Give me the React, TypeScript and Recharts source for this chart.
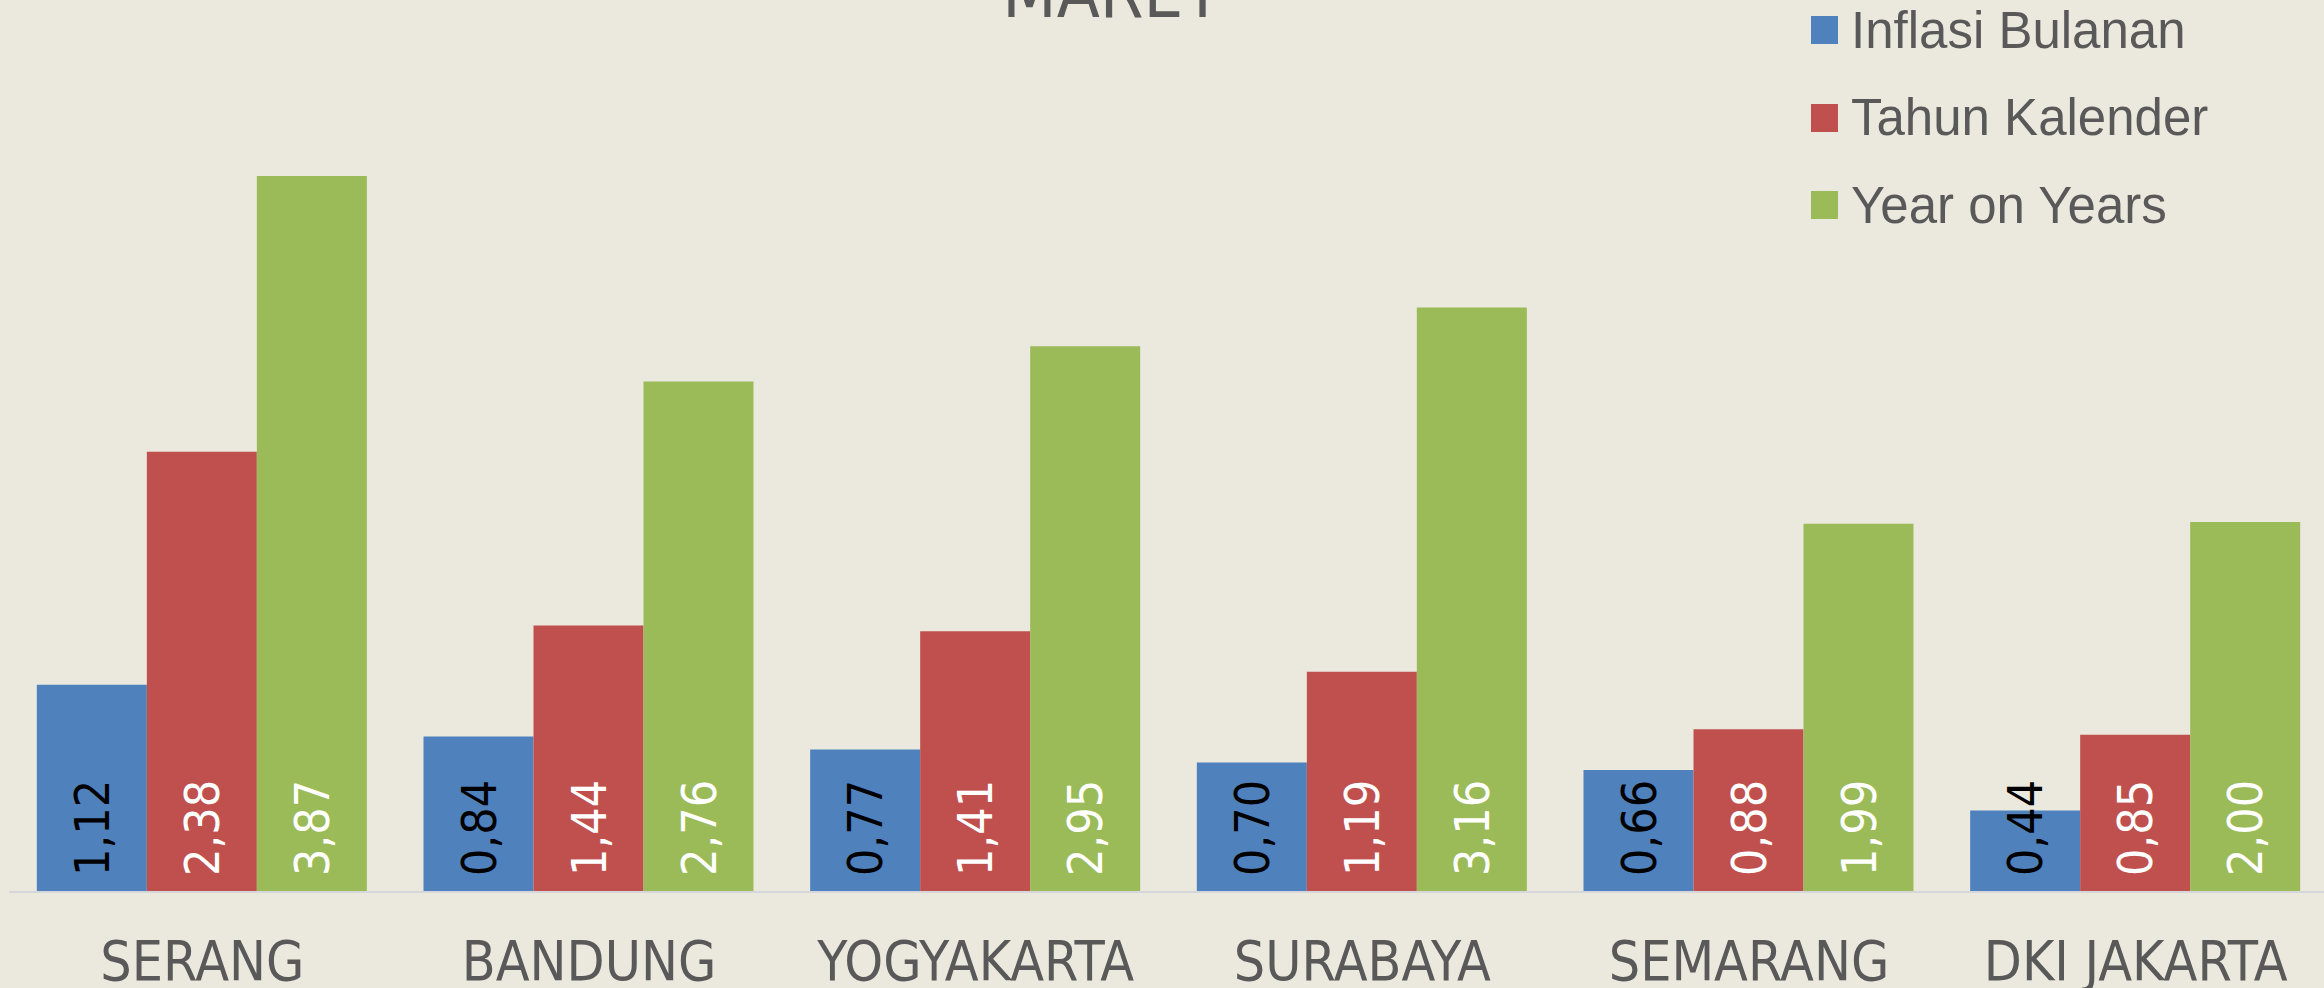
import React from 'react';
import { BarChart, Bar, XAxis, YAxis, LabelList } from 'recharts';

const categories = ['SERANG', 'BANDUNG', 'YOGYAKARTA', 'SURABAYA', 'SEMARANG', 'DKI JAKARTA'];
const inflasiBulanan = [1.12, 0.84, 0.77, 0.7, 0.66, 0.44];
const tahunKalender = [2.38, 1.44, 1.41, 1.19, 0.88, 0.85];
const yearOnYears = [3.87, 2.76, 2.95, 3.16, 1.99, 2.0];

const seriesInfo = [
  { key: 'bulanan', name: 'Inflasi Bulanan', color: '#4F81BD', labelColor: '#000000' },
  { key: 'kalender', name: 'Tahun Kalender', color: '#C0504D', labelColor: '#FFFFFF' },
  { key: 'yoy', name: 'Year on Years', color: '#9BBB59', labelColor: '#FFFFFF' },
];

const data = categories.map((c, i) => ({
  name: c,
  bulanan: inflasiBulanan[i],
  kalender: tahunKalender[i],
  yoy: yearOnYears[i],
}));

const BG = '#EBE8DE';
const TEXT = '#595959';
const CAT_FONT = "'DejaVu Sans Condensed', 'DejaVu Sans', sans-serif";

const makeLabel = (color: string) => (props: any) => {
  const { x, y, width, height, value } = props;
  const cx = Number(x) + Number(width) / 2;
  const by = Number(y) + Number(height) - 16;
  return (
    <text
      x={cx}
      y={by}
      dy="0.36em"
      transform={`rotate(-90, ${cx}, ${by})`}
      textAnchor="start"
      fill={color}
      fontSize={48}
      fontFamily={CAT_FONT}
      style={{ fontStretch: 'condensed' }}
    >
      {Number(value).toFixed(2).replace('.', ',')}
    </text>
  );
};

const CategoryTick = (props: any) => {
  const { x, y, payload } = props;
  return (
    <text
      x={x}
      y={Number(y)}
      dy={88}
      textAnchor="middle"
      fill={TEXT}
      fontSize={55}
      fontFamily={CAT_FONT}
      style={{ fontStretch: 'condensed' }}
    >
      {payload.value}
    </text>
  );
};

const LegendBox = () => (
  <div
    style={{
      position: 'absolute',
      left: 1811,
      top: 2,
      display: 'flex',
      flexDirection: 'column',
    }}
  >
    {seriesInfo.map((s, i) => (
      <div
        key={s.key}
        style={{
          display: 'flex',
          alignItems: 'center',
          height: 56,
          marginBottom: i < seriesInfo.length - 1 ? 31.5 : 0,
        }}
      >
        <div style={{ width: 27, height: 28, background: s.color, marginRight: 13 }} />
        <span
          style={{
            fontFamily: "'Liberation Sans', Arial, sans-serif",
            fontSize: 51,
            lineHeight: 1,
            color: TEXT,
            whiteSpace: 'nowrap',
          }}
        >
          {s.name}
        </span>
      </div>
    ))}
  </div>
);

export default function App() {
  return (
    <div
      style={{
        position: 'absolute',
        left: 0,
        top: 0,
        width: 2324,
        height: 988,
        overflow: 'hidden',
        background: BG,
      }}
    >
      <BarChart
        width={2330}
        height={988}
        data={data}
        margin={{ top: 59.5, right: 1, bottom: 0, left: 9 }}
        barCategoryGap="7.2%"
        barGap={0}
      >
        <XAxis
          dataKey="name"
          height={96}
          tickLine={false}
          tickSize={0}
          tickMargin={0}
          axisLine={{ stroke: '#D5D7DA', strokeWidth: 2 }}
          tick={<CategoryTick />}
          interval={0}
        />
        <YAxis hide domain={[0, 4.5]} />
        {seriesInfo.map((s) => (
          <Bar
            key={s.key}
            dataKey={s.key}
            name={s.name}
            fill={s.color}
            isAnimationActive={false}
          >
            <LabelList dataKey={s.key} content={makeLabel(s.labelColor)} />
          </Bar>
        ))}
      </BarChart>
      <LegendBox />
      <svg
        style={{ position: 'absolute', left: 0, top: 0 }}
        width={2324}
        height={60}
      >
        <text
          x={1112}
          y={17}
          textAnchor="middle"
          fill={TEXT}
          fontSize={70}
          fontFamily={CAT_FONT}
          style={{ fontStretch: 'condensed' }}
        >
          MARET
        </text>
      </svg>
    </div>
  );
}
